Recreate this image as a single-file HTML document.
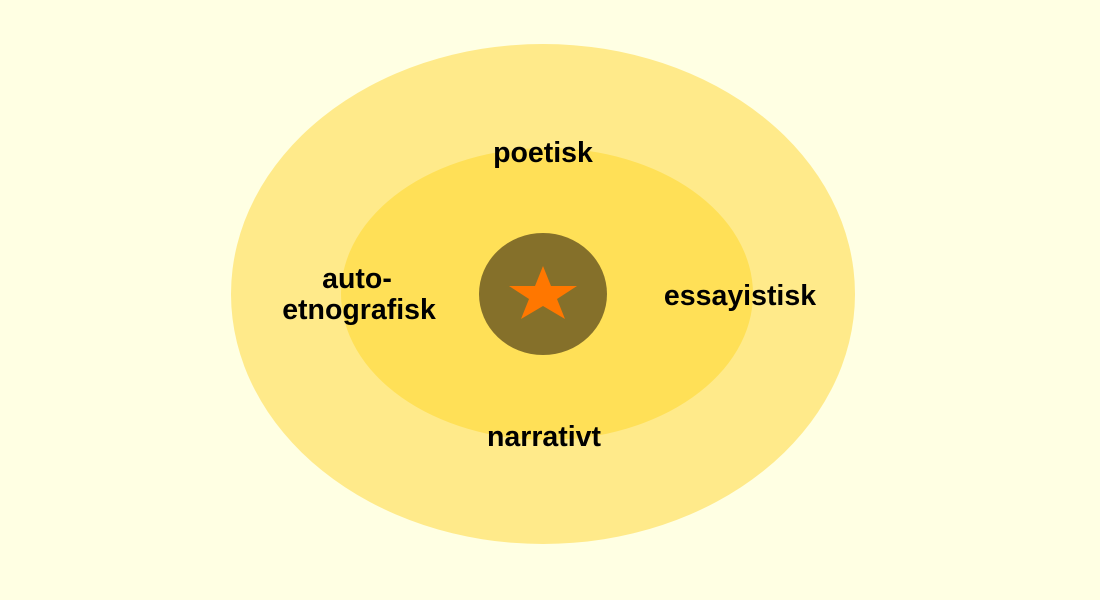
<!DOCTYPE html>
<html><head><meta charset="utf-8"><style>
html,body{margin:0;padding:0;background:#FFFFE3;}
svg{display:block}
text{font-family:"Liberation Sans",sans-serif;font-weight:bold;font-size:28.5px;fill:#000;text-anchor:middle}
</style></head><body>
<svg width="1100" height="600" viewBox="0 0 1100 600">
<rect width="1100" height="600" fill="#FFFFE3"/>
<ellipse cx="543" cy="294" rx="312" ry="250" fill="#FFEA8A"/>
<ellipse cx="547" cy="294" rx="206" ry="146" fill="#FFE057"/>
<ellipse cx="543" cy="294" rx="64" ry="61" fill="#85702A"/>
<polygon points="543,266 551,286 577,286 557,299 565,319 543,306 521,319 529,299 509,286 535,286" fill="#FF7700"/>
<text x="543" y="162">poetisk</text>
<text x="740" y="305">essayistisk</text>
<text x="357" y="288">auto-</text>
<text x="359" y="319">etnografisk</text>
<text x="544" y="446">narrativt</text>
</svg>
</body></html>
